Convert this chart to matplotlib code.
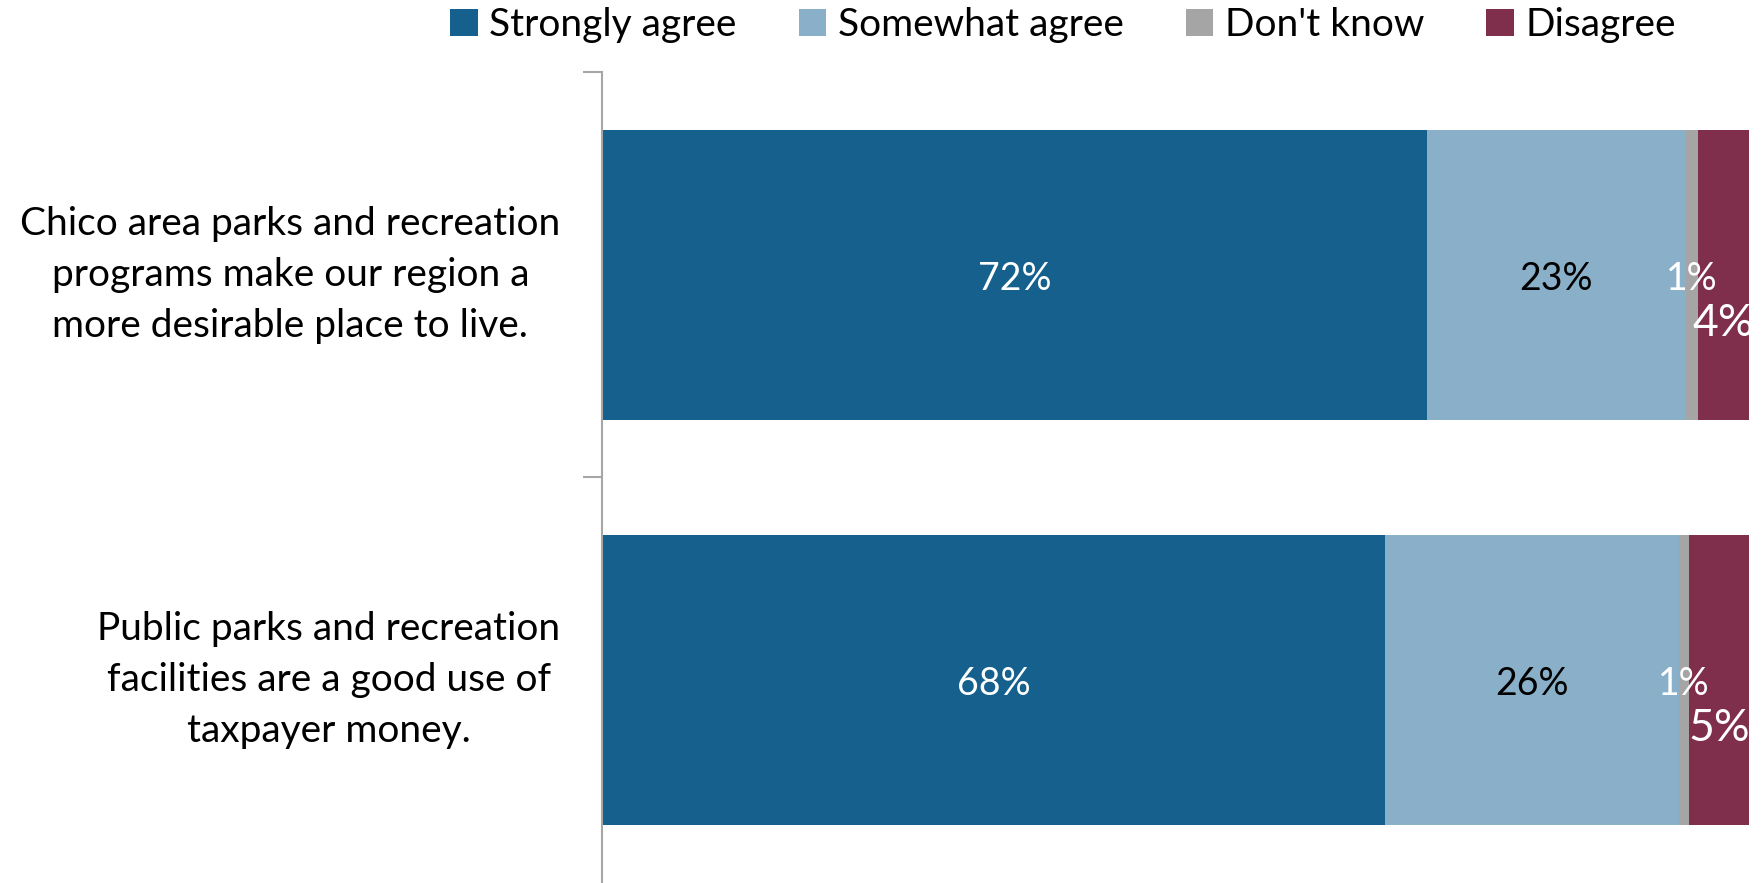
import matplotlib.pyplot as plt
from matplotlib.patches import Patch
import numpy as np

# данные
categories = [
    "Chico area parks and recreation\nprograms make our region a\nmore desirable place to live.",
    "Public parks and recreation\nfacilities are a good use of\ntaxpayer money.",
]
series = ["Strongly agree", "Somewhat agree", "Don't know", "Disagree"]
strongly = [71.9, 68.3]
somewhat = [22.6, 25.6]
dont_know = [1.1, 0.9]
disagree = [4.4, 5.2]

colors = ["#15608D", "#8AAFC8", "#A5A5A5", "#7F2F4C"]
text_colors = ["white", "black", "white", "white"]

plt.rcParams['font.family'] = ['Lato', 'DejaVu Sans']

fig = plt.figure(figsize=(17.63, 8.83), dpi=100)
ax = fig.add_axes([0.3415, 0.0, 0.992 - 0.3415, 0.9185])

y = np.arange(len(categories))
left = np.zeros(len(categories))
values = [strongly, somewhat, dont_know, disagree]
for k, vals in enumerate(values):
    vals = np.array(vals)
    ax.barh(y, vals, left=left, height=0.715, color=colors[k], label=series[k])
    for i in range(len(categories)):
        cx = left[i] + vals[i] / 2
        lab = f"{round(vals[i]):.0f}%"
        if k == 3:
            # подпись "Disagree" крупнее и сдвинута вниз
            ax.text(cx, y[i] + 0.12, lab, ha='center', va='center', color='white', fontsize=32)
        else:
            ax.text(cx, y[i] + 0.01, lab, ha='center', va='center', color=text_colors[k], fontsize=27)
    left += vals

ax.set_xlim(0, 100)
ax.set_ylim(1.5, -0.5)
ax.set_xticks([])
ax.set_yticks(y)
ax.set_yticklabels(categories, fontsize=28, multialignment='center', linespacing=1.52)
for t in ax.get_yticklabels():
    t.set_va('center')
ax.set_yticks([-0.5, 0.5], minor=True)
ax.tick_params(axis='y', which='major', length=0, pad=30)
ax.tick_params(axis='y', which='minor', length=14, width=1.5, color='#A6A6A6')
for s in ['top', 'right', 'bottom']:
    ax.spines[s].set_visible(False)
ax.spines['left'].set_color('#A6A6A6')
ax.spines['left'].set_linewidth(1.5)

handles = [Patch(facecolor=c) for c in colors]
fig.legend(handles, series, loc='center', bbox_to_anchor=(0.603, 0.972), ncol=4,
           frameon=False, fontsize=28, handlelength=0.7, handleheight=0.7,
           handletextpad=0.3, columnspacing=1.6, borderaxespad=0)

plt.savefig('out.png', dpi=100)
